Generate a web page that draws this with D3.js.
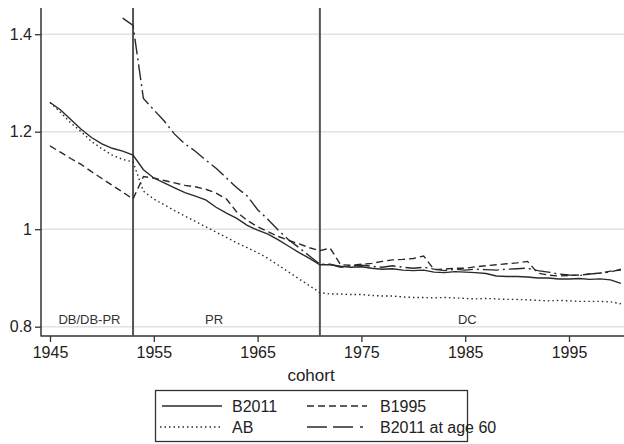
<!DOCTYPE html>
<html>
<head>
<meta charset="utf-8">
<script src="https://cdn.jsdelivr.net/npm/d3@7"></script>
<style>
  body { margin: 0; background: #fff; }
  svg { display: block; font-family: "Liberation Sans", Arial, sans-serif; }
</style>
</head>
<body>
<svg width="624" height="444"></svg>
<script>
// data, one value per cohort year
const years = d3.range(1945, 2001);

const b2011 = [1.260, 1.245, 1.225, 1.205, 1.188, 1.175, 1.166, 1.160, 1.152, 1.122,
  1.105, 1.095, 1.085, 1.075, 1.068, 1.060, 1.045, 1.033, 1.022, 1.008,
  0.998, 0.990, 0.978, 0.965, 0.952, 0.940, 0.927, 0.927, 0.924, 0.922,
  0.923, 0.920, 0.918, 0.919, 0.916, 0.915, 0.916, 0.912, 0.911, 0.913,
  0.912, 0.911, 0.909, 0.904, 0.903, 0.903, 0.902, 0.900, 0.900, 0.898,
  0.898, 0.899, 0.897, 0.898, 0.896, 0.889];

const ab = [1.260, 1.240, 1.218, 1.200, 1.180, 1.165, 1.152, 1.143, 1.138, 1.078,
  1.062, 1.050, 1.038, 1.027, 1.016, 1.005, 0.994, 0.983, 0.972, 0.962,
  0.952, 0.940, 0.926, 0.912, 0.898, 0.884, 0.870, 0.867, 0.867, 0.866,
  0.866, 0.864, 0.863, 0.863, 0.861, 0.860, 0.860, 0.859, 0.860, 0.859,
  0.858, 0.857, 0.858, 0.857, 0.856, 0.856, 0.855, 0.854, 0.853, 0.854,
  0.853, 0.852, 0.852, 0.852, 0.851, 0.847];

const b1995 = [1.171, 1.158, 1.145, 1.133, 1.118, 1.104, 1.090, 1.076, 1.062, 1.108,
  1.105, 1.100, 1.095, 1.090, 1.087, 1.082, 1.074, 1.062, 1.035, 1.018,
  1.005, 0.995, 0.985, 0.977, 0.970, 0.962, 0.956, 0.961, 0.927, 0.926,
  0.928, 0.930, 0.934, 0.937, 0.938, 0.940, 0.945, 0.917, 0.918, 0.920,
  0.920, 0.923, 0.925, 0.927, 0.929, 0.931, 0.934, 0.910, 0.906, 0.904,
  0.905, 0.906, 0.908, 0.910, 0.914, 0.916];

// only from 1952 on
const b2011at60 = [null, null, null, null, null, null, null, 1.433, 1.418, 1.268,
  1.245, 1.222, 1.195, 1.175, 1.160, 1.142, 1.125, 1.105, 1.085, 1.068,
  1.040, 1.020, 0.998, 0.978, 0.962, 0.945, 0.928, 0.928, 0.922, 0.925,
  0.926, 0.924, 0.922, 0.925, 0.922, 0.920, 0.922, 0.918, 0.915, 0.918,
  0.916, 0.918, 0.917, 0.916, 0.918, 0.919, 0.920, 0.915, 0.912, 0.908,
  0.906, 0.905, 0.908, 0.910, 0.912, 0.918];

const yTicks = [0.8, 1, 1.2, 1.4];
const xTicks = [1945, 1955, 1965, 1975, 1985, 1995];
const regimeBreaks = [1953, 1971];
const regimeLabels = [
  {label: 'DB/DB-PR', year: 1948.8},
  {label: 'PR', year: 1960.8},
  {label: 'DC', year: 1985.2}
];

const series = [
  {name: 'B2011', values: b2011, dash: null},
  {name: 'B1995', values: b1995, dash: '7,4'},
  {name: 'AB', values: ab, dash: '1.5,3'},
  {name: 'B2011 at age 60', values: b2011at60, dash: '16,4,2,4'}
];

const svg = d3.select('svg');
const plotLeft = 41, plotTop = 8, plotBottom = 336, plotRight = 624;

const x = d3.scaleLinear().domain([1945, 2000]).range([50, 620.9]);
const y = d3.scaleLinear().domain([0.8, 1.4]).range([326.7, 34.2]);

// grid
svg.append('g')
  .selectAll('line')
  .data(yTicks)
  .join('line')
  .attr('x1', plotLeft).attr('x2', plotRight)
  .attr('y1', d => y(d)).attr('y2', d => y(d))
  .attr('stroke', '#e2e2e2')
  .attr('stroke-width', 1.5);

// axes
const yAxis = svg.append('g')
  .attr('transform', `translate(${plotLeft},0)`)
  .call(d3.axisLeft(y).tickValues(yTicks).tickSize(6).tickPadding(3)
    .tickFormat(d3.format('')));
yAxis.select('.domain').remove();
yAxis.selectAll('text').attr('font-size', 16).attr('fill', '#222')
  .attr('font-family', '"Liberation Sans", Arial, sans-serif');
yAxis.selectAll('line').attr('stroke', '#333').attr('stroke-width', 1.3);

const xAxis = svg.append('g')
  .attr('transform', `translate(0,${plotBottom})`)
  .call(d3.axisBottom(x).tickValues(xTicks).tickSize(6).tickPadding(5)
    .tickFormat(d3.format('d')));
xAxis.select('.domain').remove();
xAxis.selectAll('text').attr('font-size', 16).attr('fill', '#222')
  .attr('font-family', '"Liberation Sans", Arial, sans-serif');
xAxis.selectAll('line').attr('stroke', '#333').attr('stroke-width', 1.3);

svg.append('line')
  .attr('x1', plotLeft).attr('x2', plotLeft).attr('y1', plotTop).attr('y2', plotBottom + 0.5)
  .attr('stroke', '#333').attr('stroke-width', 1.5);
svg.append('line')
  .attr('x1', plotLeft).attr('x2', plotRight).attr('y1', plotBottom).attr('y2', plotBottom)
  .attr('stroke', '#333').attr('stroke-width', 1.5);

// regime break lines
svg.append('g')
  .selectAll('line')
  .data(regimeBreaks)
  .join('line')
  .attr('x1', d => x(d)).attr('x2', d => x(d))
  .attr('y1', plotTop).attr('y2', plotBottom)
  .attr('stroke', '#555')
  .attr('stroke-width', 2);

svg.append('g')
  .selectAll('text')
  .data(regimeLabels)
  .join('text')
  .attr('x', d => x(d.year))
  .attr('y', 324)
  .attr('text-anchor', 'middle')
  .attr('font-size', 13)
  .attr('fill', '#333')
  .text(d => d.label);

// lines
const line = d3.line()
  .defined(d => d[1] != null)
  .x(d => x(d[0]))
  .y(d => y(d[1]));

svg.append('g')
  .selectAll('path')
  .data(series)
  .join('path')
  .attr('d', s => line(years.map((yr, i) => [yr, s.values[i]])))
  .attr('fill', 'none')
  .attr('stroke', '#2a2a2a')
  .attr('stroke-width', 1.4)
  .attr('stroke-dasharray', s => s.dash);

// x title
svg.append('text')
  .attr('x', 311).attr('y', 381)
  .attr('text-anchor', 'middle')
  .attr('font-size', 17)
  .attr('fill', '#222')
  .text('cohort');

// legend
const legend = svg.append('g');
legend.append('rect')
  .attr('x', 155.5).attr('y', 390.5)
  .attr('width', 312).attr('height', 51)
  .attr('fill', '#fff')
  .attr('stroke', '#333')
  .attr('stroke-width', 1.3);

const legendItems = [
  {s: series[0], lx: 162, ly: 406},
  {s: series[1], lx: 307, ly: 406},
  {s: series[2], lx: 160, ly: 427},
  {s: series[3], lx: 307, ly: 427}
];
legendItems.forEach(d => {
  legend.append('line')
    .attr('x1', d.lx).attr('x2', d.lx + 60)
    .attr('y1', d.ly).attr('y2', d.ly)
    .attr('stroke', '#2a2a2a')
    .attr('stroke-width', 1.4)
    .attr('stroke-dasharray', d.s.name === 'B2011 at age 60' ? '20,6,20,7,3,30' : d.s.dash);
  legend.append('text')
    .attr('x', d.lx < 200 ? 232 : 380)
    .attr('y', d.ly + 6)
    .attr('font-size', 16)
    .attr('fill', '#222')
    .text(d.s.name);
});
</script>
</body>
</html>
